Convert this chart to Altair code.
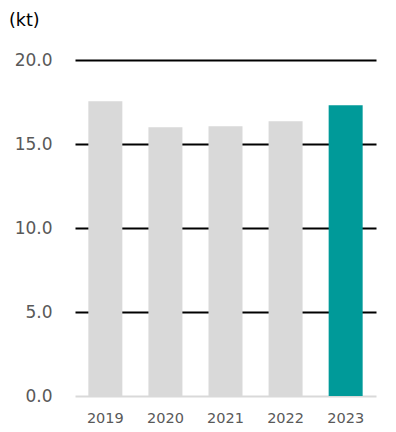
import altair as alt
import pandas as pd

years = ["2019", "2020", "2021", "2022", "2023"]
values = [17.55, 16.0, 16.05, 16.35, 17.3]
colors = ["#d9d9d9", "#d9d9d9", "#d9d9d9", "#d9d9d9", "#009a99"]
unit_label = "(kt)"

df = pd.DataFrame({"year": years, "value": values, "color": colors})

bars = alt.Chart(df).mark_bar(size=34).encode(
    x=alt.X("year:N", title=None, sort=years,
            scale=alt.Scale(paddingInner=0.43, paddingOuter=0.22),
            axis=alt.Axis(labelAngle=0, labelFontSize=14.5, labelColor="#595959",
                          labelFont="DejaVu Sans", labelPadding=15, ticks=False,
                          domain=False)),
    y=alt.Y("value:Q", title=None,
            scale=alt.Scale(domain=[0, 20], nice=False),
            axis=alt.Axis(values=[0, 5, 10, 15, 20], format=".1f", labelFontSize=17,
                          labelColor="#595959", labelFont="DejaVu Sans", labelPadding=23,
                          ticks=False, domain=False,
                          gridColor={"condition": {"test": "datum.value === 0", "value": "#d9d9d9"}, "value": "#000000"},
                          gridWidth=2, gridOpacity=1)),
    color=alt.Color("color:N", scale=None),
)

unit = alt.Chart(pd.DataFrame({"t": [unit_label]})).mark_text(
    font="DejaVu Sans", fontSize=17.5, color="#000000", align="left", baseline="middle"
).encode(text="t:N", x=alt.value(-66), y=alt.value(-39))

chart = alt.layer(bars, unit).properties(
    width=301,
    height=336,
    padding={"left": 67, "top": 52, "right": 12, "bottom": 28},
    autosize=alt.AutoSizeParams(type="none"),
).configure_view(stroke=None)

chart.save("out.html", embed_options={"renderer": "svg", "actions": False})
